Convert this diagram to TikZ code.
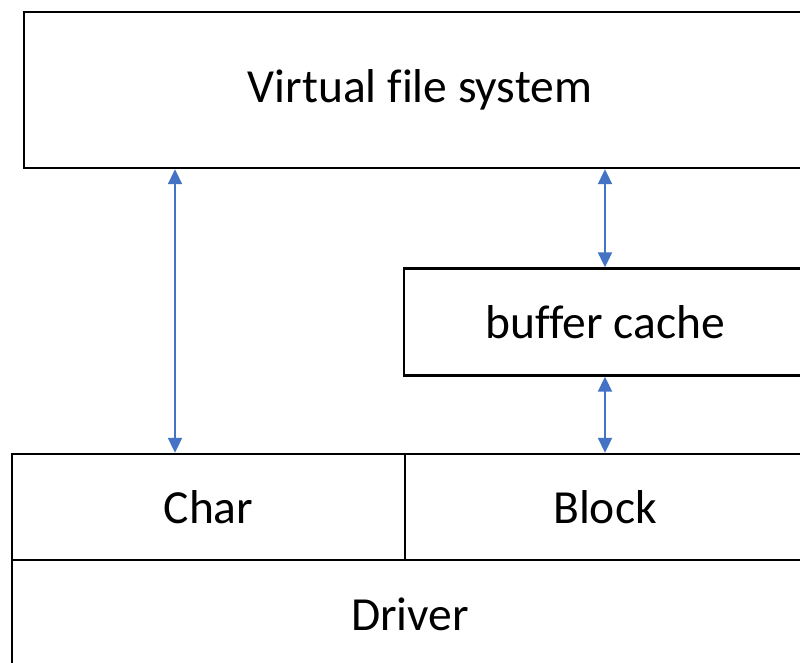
\documentclass[tikz,border=0pt]{standalone}
\usepackage{fontspec}
\setmainfont{Carlito}[Ligatures=NoCommon]
\usetikzlibrary{arrows.meta,calc,positioning}
\definecolor{vfsBlue}{HTML}{4472C4}

\begin{document}
\begin{tikzpicture}[x=1pt,y=-1pt,line join=miter]
\tikzset{layer/.style={draw=black,line width=2.4pt,fill=white,inner sep=0pt,font=\fontsize{47.5}{52}\selectfont},
  biarrow/.style={draw=vfsBlue,line width=2pt,{Triangle[length=15pt,width=14pt]}-{Triangle[length=15pt,width=14pt]}}}
\useasboundingbox (0,0) rectangle (800,662);
\clip (0,0) rectangle (800,662);
\path[fill=white] (0,0) rectangle (800,662);
% layers
\node[layer,minimum width=792pt,minimum height=156pt] (vfs) at (420,90) {Virtual file system};
\node[layer,minimum width=402pt,minimum height=107pt] (buf) at (605,322) {buffer cache};
\node[layer,minimum width=393pt,minimum height=106pt] (chr) at (208.5,507) {Char};
\node[layer,minimum width=400pt,minimum height=106pt] (blk) at (605,507) {Block};
\node[layer,minimum width=796pt,minimum height=108pt] (drv) at (410,614) {Driver};
% arrows
\coordinate (lx) at (175,0);
\draw[biarrow] (vfs.south -| lx) -- (chr.north -| lx);
\draw[biarrow] (vfs.south -| buf.north) -- (buf.north);
\draw[biarrow] (buf.south) -- (blk.north -| buf.south);
\end{tikzpicture}
\end{document}
